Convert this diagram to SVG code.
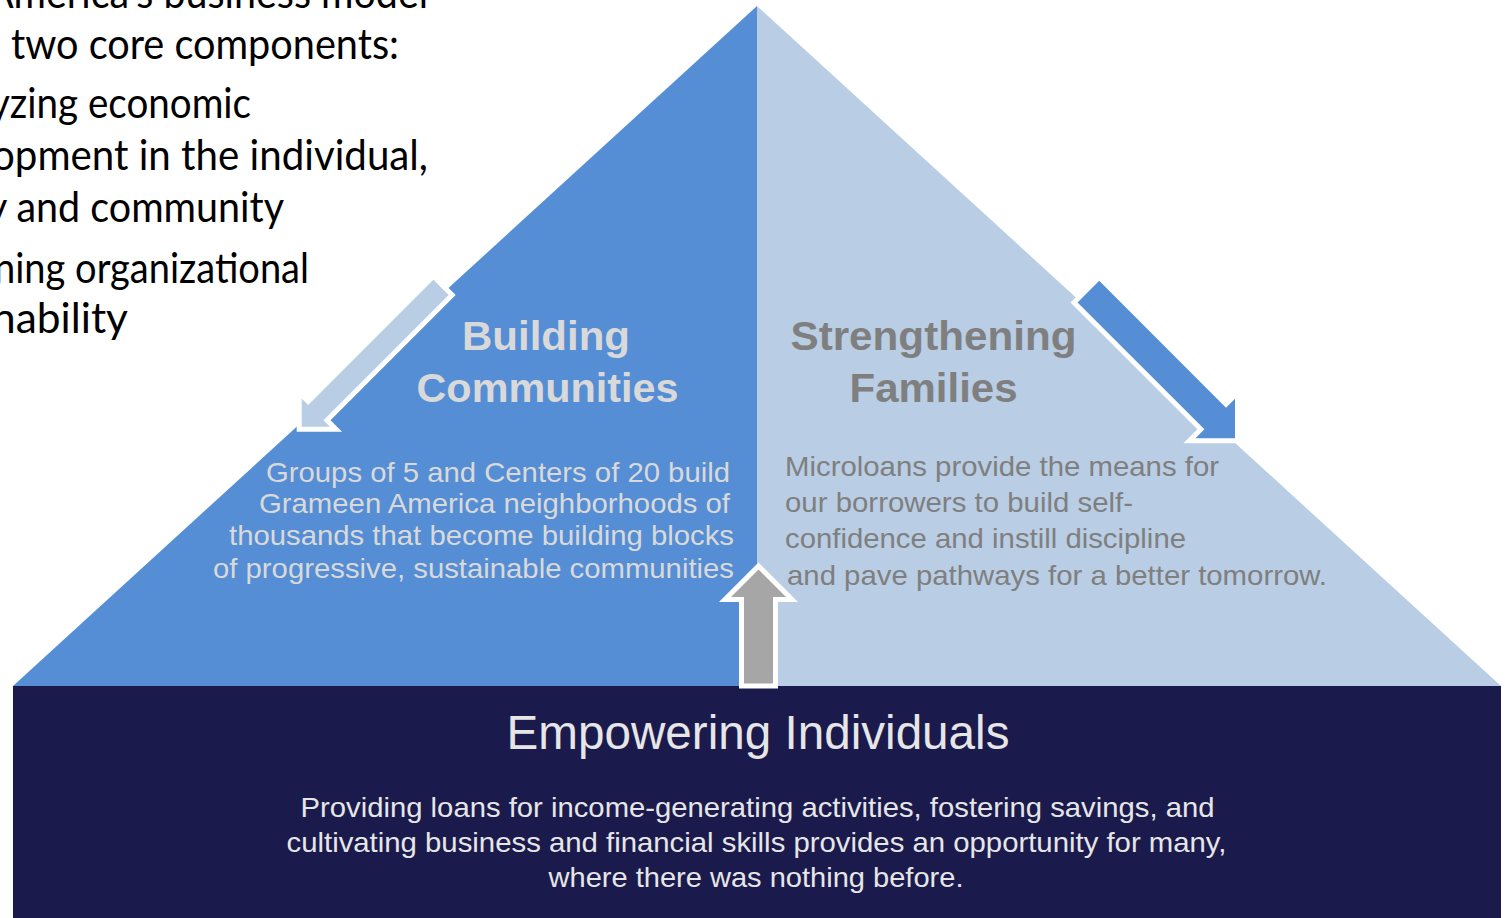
<svg xmlns="http://www.w3.org/2000/svg" width="1505" height="918" viewBox="0 0 1505 918">
  <style>
    .tl { font-family: Lato, "Open Sans", sans-serif; font-size: 42px; fill: #000000; }
    .ttl { font-family: "Liberation Sans", Arial, sans-serif; font-weight: bold; font-size: 41.5px; }
    .bd { font-family: "Liberation Sans", Arial, sans-serif; font-size: 28.5px; }
    .light { fill: #D9D9D9; }
    .grey { fill: #7F7F7F; }
    .pale { fill: #E6E6E6; }
    .arrow { stroke: #FFFFFF; stroke-width: 5; stroke-linejoin: miter; }
  </style>
  <rect x="0" y="0" width="1505" height="918" fill="#FFFFFF"/>

  <g id="intro-text">
    <text class="tl" x="-13" y="8" textLength="441" lengthAdjust="spacingAndGlyphs">America's business model</text>
    <text class="tl" x="11" y="59" textLength="388" lengthAdjust="spacingAndGlyphs">two core components:</text>
    <text class="tl" x="-10" y="118" textLength="261" lengthAdjust="spacingAndGlyphs">yzing economic</text>
    <text class="tl" x="-8" y="170" textLength="436" lengthAdjust="spacingAndGlyphs">opment in the individual,</text>
    <text class="tl" x="-13" y="222" textLength="297" lengthAdjust="spacingAndGlyphs">y and community</text>
    <text class="tl" x="-6" y="283" textLength="315" lengthAdjust="spacingAndGlyphs">ning organizational</text>
    <text class="tl" x="-8" y="333" textLength="136" lengthAdjust="spacingAndGlyphs">nability</text>
  </g>

  <g id="node-building-communities">
    <polygon points="757,6 13,686 757,686" fill="#558ED5"/>
    <text class="ttl light" x="546" y="350" text-anchor="middle" textLength="168" lengthAdjust="spacingAndGlyphs">Building</text>
    <text class="ttl light" x="547.5" y="402" text-anchor="middle" textLength="262" lengthAdjust="spacingAndGlyphs">Communities</text>
    <text class="bd light" x="730" y="482" text-anchor="end" textLength="464" lengthAdjust="spacingAndGlyphs">Groups of 5 and Centers of 20 build</text>
    <text class="bd light" x="730" y="513" text-anchor="end" textLength="471" lengthAdjust="spacingAndGlyphs">Grameen America neighborhoods of</text>
    <text class="bd light" x="734" y="545" text-anchor="end" textLength="505" lengthAdjust="spacingAndGlyphs">thousands that become building blocks</text>
    <text class="bd light" x="734" y="578" text-anchor="end" textLength="521" lengthAdjust="spacingAndGlyphs">of progressive, sustainable communities</text>
  </g>

  <g id="node-strengthening-families">
    <polygon points="757,6 1501,686 757,686" fill="#B9CDE5"/>
    <text class="ttl grey" x="933.5" y="350" text-anchor="middle" textLength="286" lengthAdjust="spacingAndGlyphs">Strengthening</text>
    <text class="ttl grey" x="933.5" y="402" text-anchor="middle" textLength="168" lengthAdjust="spacingAndGlyphs">Families</text>
    <text class="bd grey" x="785" y="476" textLength="434" lengthAdjust="spacingAndGlyphs">Microloans provide the means for</text>
    <text class="bd grey" x="785" y="512" textLength="348" lengthAdjust="spacingAndGlyphs">our borrowers to build self-</text>
    <text class="bd grey" x="785" y="548" textLength="401" lengthAdjust="spacingAndGlyphs">confidence and instill discipline</text>
    <text class="bd grey" x="787" y="585" textLength="540" lengthAdjust="spacingAndGlyphs">and pave pathways for a better tomorrow.</text>
  </g>

  <g id="node-empowering-individuals">
    <rect x="13" y="686" width="1488" height="232" fill="#1B1A4D"/>
    <text class="pale" x="758" y="749" text-anchor="middle" font-family="Liberation Sans, Arial, sans-serif" font-size="48" textLength="503" lengthAdjust="spacingAndGlyphs">Empowering Individuals</text>
    <text class="bd pale" x="757.5" y="817" text-anchor="middle" textLength="914" lengthAdjust="spacingAndGlyphs">Providing loans for income-generating activities, fostering savings, and</text>
    <text class="bd pale" x="756.5" y="852" text-anchor="middle" textLength="940" lengthAdjust="spacingAndGlyphs">cultivating business and financial skills provides an opportunity for many,</text>
    <text class="bd pale" x="756" y="887" text-anchor="middle" textLength="415" lengthAdjust="spacingAndGlyphs">where there was nothing before.</text>
  </g>

  <g id="connectors">
    <polygon class="arrow" fill="#B9CDE5" transform="translate(299.2,429.2) rotate(135)" points="-203,-13.3 -26,-13.3 -26,-26 0,0 -26,26 -26,13.3 -203,13.3"/>
    <polygon class="arrow" fill="#558ED5" transform="translate(1237.5,440.8) rotate(45)" points="-213.4,-17.8 -34,-17.8 -34,-34 0,0 -34,34 -34,17.8 -213.4,17.8"/>
    <polygon class="arrow" fill="#A6A6A6" stroke-width="5.5" points="758.5,566 792,599.5 775.5,599.5 775.5,686 741.5,686 741.5,599.5 725,599.5"/>
  </g>
</svg>
